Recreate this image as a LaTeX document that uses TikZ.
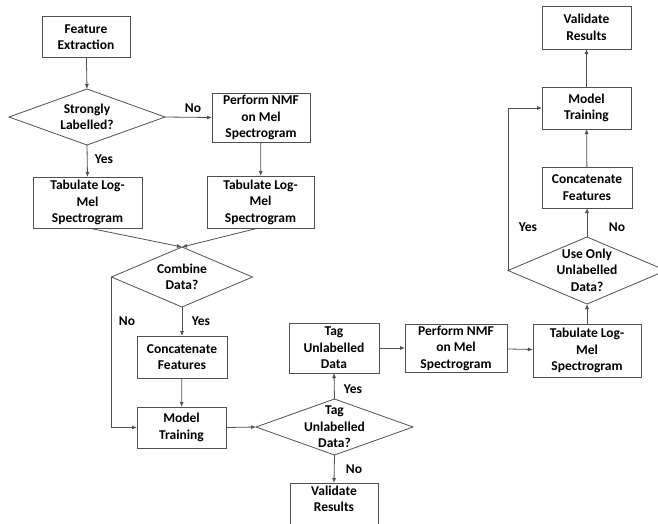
\documentclass[tikz,border=0pt]{standalone}
\usepackage{fontspec}
\setmainfont{Carlito}
\usetikzlibrary{shapes.geometric,arrows.meta}
\definecolor{ln}{HTML}{505050}
\tikzset{
  box/.style={draw=ln, line width=0.8pt, rectangle, inner sep=0pt, outer sep=0pt, align=center, font=\fontsize{13.5}{16.5}\selectfont\bfseries, text=black},
  dia/.style={draw=ln, line width=0.8pt, diamond, inner sep=0pt, outer sep=0pt},
  dtext/.style={align=center, font=\fontsize{13.5}{16.5}\selectfont\bfseries, inner sep=0pt},
  lbl/.style={font=\fontsize{13.5}{16}\selectfont\bfseries, inner sep=0pt},
  arr/.style={draw=ln, line width=0.8pt, -{Latex[length=5pt,width=4pt]}}
}
\begin{document}
\begin{tikzpicture}[x=1pt,y=-1pt]
\useasboundingbox (0,0) rectangle (658,523);
\fill[white] (0,0) rectangle (658,523);
\clip (0,0) rectangle (658,523);
% left column
\node[box, minimum width=88pt, minimum height=41pt] (fe) at (86,37) {Feature\\Extraction};
\node[dia, minimum width=156pt, minimum height=56pt] (d1) at (87,117) {};
\node[dtext] at (87,117) {Strongly\\Labelled?};
\node[box, minimum width=98pt, minimum height=49pt] (nmf1) at (261,117.5) {Perform NMF\\on Mel\\Spectrogram};
\node[box, minimum width=109pt, minimum height=51pt] (tab1) at (87.5,202.5) {Tabulate Log-\\Mel\\Spectrogram};
\node[box, minimum width=107pt, minimum height=52pt] (tab2) at (260.5,202) {Tabulate Log-\\Mel\\Spectrogram};
\node[dia, minimum width=141pt, minimum height=60pt] (d2) at (182,277) {};
\node[dtext] at (182,277) {Combine\\Data?};
\node[box, minimum width=90pt, minimum height=42pt] (cat1) at (182,357) {Concatenate\\Features};
\node[box, minimum width=89pt, minimum height=41pt] (mt1) at (181.5,427.5) {Model\\Training};
% middle
\node[dia, minimum width=157pt, minimum height=56pt] (d3) at (334.5,427) {};
\node[dtext] at (334.5,427) {Tag\\Unlabelled\\Data?};
\node[box, minimum width=90pt, minimum height=50pt] (tag) at (334,348) {Tag\\Unlabelled\\Data};
\node[box, minimum width=88pt, minimum height=60pt, anchor=north] (val1) at (334,483) {Validate\\Results\\[12pt]};
\node[box, minimum width=102pt, minimum height=48pt] (nmf2) at (456,348) {Perform NMF\\on Mel\\Spectrogram};
\node[box, minimum width=108pt, minimum height=53pt] (tab3) at (587,350.5) {Tabulate Log-\\Mel\\Spectrogram};
% right column
\node[dia, minimum width=158pt, minimum height=67pt] (d4) at (587,270.5) {};
\node[dtext] at (587,270) {Use Only\\Unlabelled\\Data?};
\node[box, minimum width=90pt, minimum height=41pt] (cat2) at (587,187.5) {Concatenate\\Features};
\node[box, minimum width=89pt, minimum height=42pt] (mt2) at (586.5,108) {Model\\Training};
\node[box, minimum width=89pt, minimum height=43pt] (val2) at (586.5,27.5) {Validate\\Results};
% connectors
\draw[arr] (fe) -- (d1.north);
\draw[arr] (d1.east) -- (nmf1.west);
\draw[arr] (d1.south) -- (tab1.north);
\draw[arr] (nmf1) -- (tab2);
\draw[arr] ([xshift=1pt]tab1.south) -- (d2.north);
\draw[arr] ([xshift=-2pt]tab2.south) -- (d2.north);
\draw[arr] (d2.south) -- (cat1.north);
\draw[arr] (cat1) -- (mt1);
\draw[arr] (d2.west) |- (mt1.west);
\draw[arr] (mt1.east) -- (d3.west);
\draw[arr] (d3.north) -- (tag.south);
\draw[arr] (d3.south) -- (val1.north);
\draw[arr] (tag) -- (nmf2);
\draw[arr] (nmf2) -- (tab3);
\draw[arr] (tab3) -- (d4.south);
\draw[arr] (d4.north) -- (cat2.south);
\draw[arr] (cat2) -- (mt2);
\draw[arr] (mt2) -- (val2);
\draw[arr] (d4.west) |- (mt2.west);
% labels
\node[lbl] at (193,108) {No};
\node[lbl] at (104,159) {Yes};
\node[lbl] at (127,321) {No};
\node[lbl] at (201,321) {Yes};
\node[lbl] at (353,389) {Yes};
\node[lbl] at (354,469) {No};
\node[lbl] at (528,227) {Yes};
\node[lbl] at (617,227) {No};
\end{tikzpicture}
\end{document}
